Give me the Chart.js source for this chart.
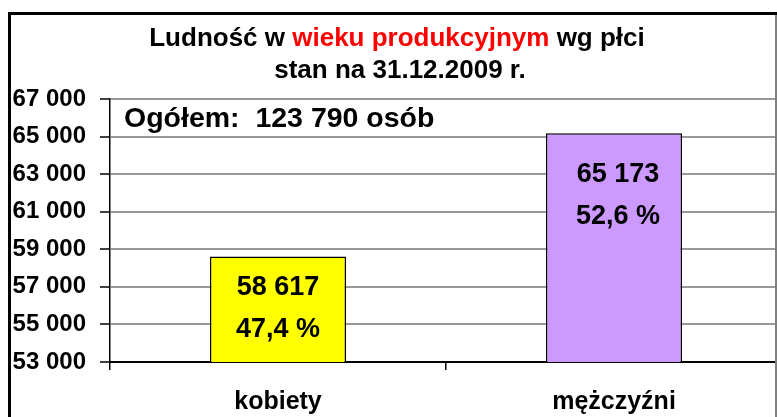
<!DOCTYPE html>
<html>
<head>
<meta charset="utf-8">
<script src="https://cdn.jsdelivr.net/npm/chart.js@4/dist/chart.umd.min.js"></script>
<style>
  html, body { margin: 0; padding: 0; background: #fff; overflow: hidden; }
  #wrap { position: relative; width: 777px; height: 417px; overflow: hidden; }
</style>
</head>
<body>
<div id="wrap"><canvas id="myChart" width="783" height="417"></canvas></div>
<script>
// Data
var categories = ['kobiety', 'mężczyźni'];
var values = [58617, 65173];
var percents = [47.4, 52.6];
var total = 123790;
var yTicks = [53000, 55000, 57000, 59000, 61000, 63000, 65000, 67000];

var FONT = '"Liberation Sans", Arial, sans-serif';

function fmt(n) {
    return String(n).replace(/\B(?=(\d{3})+(?!\d))/g, ' ');
}

// frame, title and the "Ogółem" note
var decor = {
    id: 'decor',
    beforeDraw: function(chart) {
        var ctx = chart.ctx;
        ctx.save();
        ctx.fillStyle = '#fff';
        ctx.fillRect(0, 0, chart.width, chart.height);
        ctx.restore();
    },
    afterDraw: function(chart) {
        var ctx = chart.ctx;
        ctx.save();
        // frame (plot runs a little past the right edge of the frame)
        ctx.fillStyle = '#fff';
        ctx.fillRect(777, 0, chart.width - 777, chart.height);
        ctx.lineWidth = 3;
        ctx.strokeStyle = '#000';
        ctx.beginPath();
        ctx.moveTo(9.5, 417);
        ctx.lineTo(9.5, 13.5);
        ctx.lineTo(777, 13.5);
        ctx.stroke();
        ctx.fillRect(776, 15, 1, 402);
        ctx.lineWidth = 2;
        ctx.strokeStyle = '#808080';
        ctx.beginPath();
        ctx.moveTo(776, 15);
        ctx.lineTo(776, 417);
        ctx.stroke();

        // title
        ctx.font = 'bold 26px ' + FONT;
        ctx.textBaseline = 'middle';
        ctx.textAlign = 'left';
        var parts = [['Ludność w ', '#000'], ['wieku produkcyjnym', '#ff0000'], [' wg płci', '#000']];
        var w = 0;
        parts.forEach(function(p) { w += ctx.measureText(p[0]).width; });
        var x = 397 - w / 2;
        parts.forEach(function(p) {
            ctx.fillStyle = p[1];
            ctx.fillText(p[0], x, 39);
            x += ctx.measureText(p[0]).width;
        });
        ctx.fillStyle = '#000';
        ctx.textAlign = 'center';
        ctx.fillText('stan na 31.12.2009 r.', 400, 71);

        ctx.font = 'bold 28.5px ' + FONT;
        ctx.textAlign = 'left';
        ctx.textBaseline = 'alphabetic';
        ctx.fillText('Ogółem:  ' + fmt(total) + ' osób', 124, 127);
        ctx.restore();
    }
};

// value + percent inside each bar
var barLabels = {
    id: 'barLabels',
    afterDatasetsDraw: function(chart) {
        var ctx = chart.ctx;
        var meta = chart.getDatasetMeta(0);
        ctx.save();
        ctx.font = 'bold 27px ' + FONT;
        ctx.fillStyle = '#000';
        ctx.textAlign = 'center';
        ctx.textBaseline = 'middle';
        meta.data.forEach(function(bar, i) {
            var off = i === 0 ? 31 : 41;
            var dx = i === 0 ? 0 : 4;
            ctx.fillText(fmt(values[i]), bar.x + dx, bar.y + off);
            ctx.fillText(String(percents[i]).replace('.', ',') + ' %', bar.x + dx, bar.y + off + 42);
        });
        ctx.restore();
    }
};

function renderChart() {
    var ctx = document.getElementById('myChart').getContext('2d');
    new Chart(ctx, {
        type: 'bar',
        data: {
            labels: categories,
            datasets: [{
                data: values,
                backgroundColor: ['#ffff00', '#cc99ff'],
                borderColor: '#000',
                borderWidth: 1.5,
                borderSkipped: false,
                barPercentage: 0.405,
                categoryPercentage: 1
            }]
        },
        options: {
            responsive: false,
            animation: false,
            layout: { padding: { left: 0, right: 1, top: 99, bottom: 0 } },
            plugins: {
                legend: { display: false },
                title: { display: false },
                tooltip: { enabled: false }
            },
            scales: {
                x: {
                    grid: {
                        offset: true,
                        drawOnChartArea: false,
                        tickLength: 8,
                        color: '#000',
                        lineWidth: 1.5
                    },
                    border: { color: '#000', width: 2 },
                    ticks: {
                        color: '#000',
                        padding: 17,
                        font: { family: FONT, size: 25, weight: 'bold' }
                    },
                    afterFit: function(scale) { scale.height = 55; }
                },
                y: {
                    min: yTicks[0],
                    max: yTicks[yTicks.length - 1],
                    afterBuildTicks: function(scale) {
                        scale.ticks = yTicks.map(function(v) { return { value: v }; });
                    },
                    grid: {
                        color: '#999999',
                        lineWidth: 2,
                        tickLength: 10,
                        tickColor: '#000',
                        tickWidth: 1.5
                    },
                    border: { color: '#000', width: 1.5 },
                    ticks: {
                        color: '#000',
                        padding: 14,
                        font: { family: FONT, size: 24, weight: 'bold' },
                        callback: function(v) { return fmt(v); }
                    },
                    afterFit: function(scale) { scale.width = 110; }
                }
            }
        },
        plugins: [decor, barLabels]
    });
}
window.onload = renderChart;
</script>
</body>
</html>
